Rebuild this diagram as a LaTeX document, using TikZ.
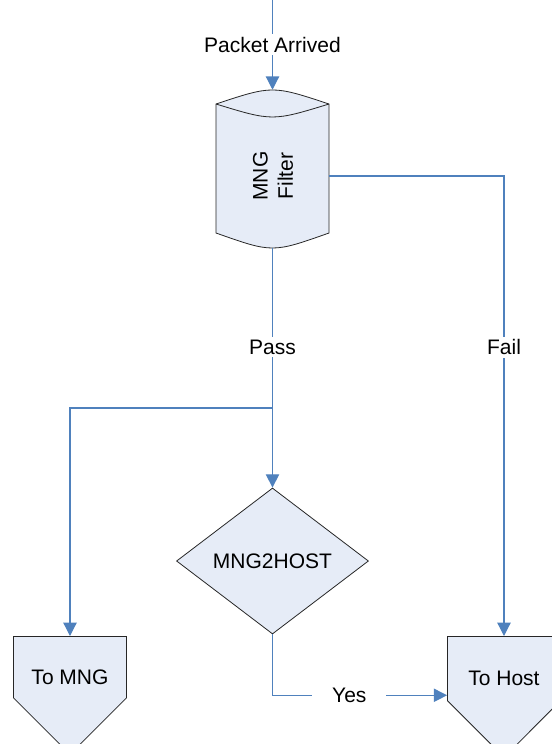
\documentclass[tikz,border=0pt]{standalone}
\usepackage{fontspec}
\setmainfont{Liberation Sans}
\usetikzlibrary{arrows.meta,shapes.geometric,shapes.symbols}
\definecolor{flowline}{RGB}{79,129,189}
\definecolor{boxfill}{RGB}{230,236,247}
\begin{document}
\begin{tikzpicture}[x=0.75pt,y=-0.75pt,
    font=\fontsize{15.75}{19}\selectfont,
    box/.style={draw=black!85,fill=boxfill,line width=0.6pt},
    flow/.style={draw=flowline,line width=0.9pt},
    arrow/.style={flow,-{Triangle[length=10pt,width=10pt]}},
    lbl/.style={fill=white,inner xsep=15pt,inner ysep=2pt},
    outlet/.style={box,shape=signal,signal to=south,signal pointer angle=90,
      minimum width=84.75pt,minimum height=75pt,inner sep=0pt,text height=26pt}]
  \useasboundingbox (0,0) rectangle (552,744);
  % filter drum
  \path[box] (216,104) -- (216,233) .. controls (272.5,253) .. (329,233)
    -- (329,104) .. controls (272.5,85.3) .. (216,104) -- cycle;
  \draw[box,fill=none] (216,104) .. controls (272.5,121.3) .. (329,104);
  \node[minimum width=84.75pt,minimum height=118.5pt,inner sep=0pt] (filter) at (272.5,169) {};
  \node[rotate=90,align=center] at (273,176) {MNG\\Filter};
  \node[box,diamond,minimum width=144pt,minimum height=109.5pt,inner sep=0pt] (decide) at (272.5,561) {MNG2HOST};
  \node[outlet,anchor=north] (tomng) at (70,636) {To MNG};
  \node[outlet,anchor=north] (tohost) at (504,636) {To Host};
  \coordinate (feed) at (272.5,0);
  \coordinate (split) at (272.5,408);
  % connectors
  \draw[arrow] (feed) -- node[lbl]{Packet Arrived} (filter.north);
  \draw[flow] (filter.south) -- node[lbl,pos=0.62]{Pass} (split);
  \draw[arrow] (split) -- (decide.north);
  \draw[arrow] (split) -| (tomng.north);
  \draw[arrow] ([yshift=-5.25pt]filter.east) -| node[lbl,pos=0.686]{Fail} (tohost.north);
  \draw[arrow] (decide.south) |- node[lbl,pos=0.72]{Yes} ([yshift=-20pt]tohost.west);
\end{tikzpicture}
\end{document}
